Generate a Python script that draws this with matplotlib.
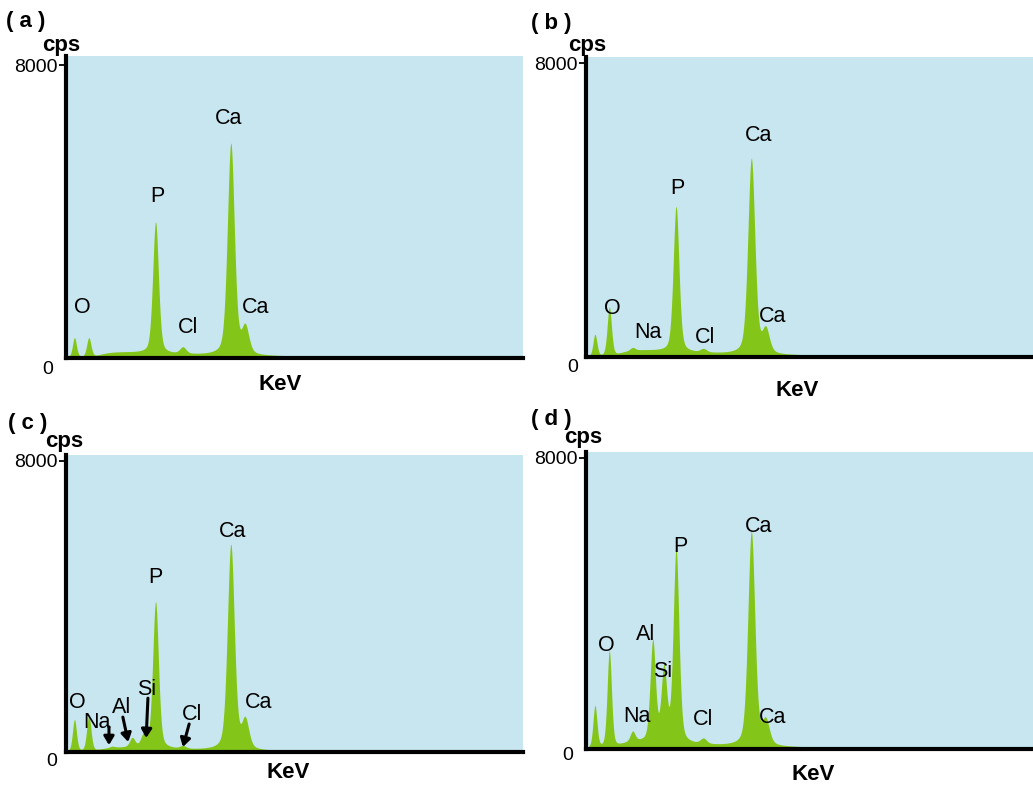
import numpy as np
import matplotlib
matplotlib.use('Agg')
import matplotlib.pyplot as plt

plt.rcParams['font.family'] = ['Liberation Sans', 'DejaVu Sans']

W, H = 1033, 785
bg_color = '#c8e6ef'
fill_color = '#84c51a'

# characteristic line energies (keV)
line_energy = {'low': 0.20, 'O': 0.52, 'Na': 1.04, 'Al': 1.49, 'Si': 1.74,
               'P': 2.01, 'Cl': 2.62, 'Ca': 3.69, 'CaKb': 4.01}

# peak heights (cps) for each sample
a_lines = ['low', 'O', 'P', 'Cl', 'Ca', 'CaKb']
a_counts = [535, 535, 3700, 260, 5840, 780]
a_level = 110

b_lines = ['low', 'O', 'Na', 'P', 'Cl', 'Ca', 'CaKb']
b_counts = [600, 1355, 245, 4090, 200, 5390, 705]
b_level = 140

c_lines = ['low', 'O', 'Na', 'Al', 'Si', 'P', 'Cl', 'Ca', 'CaKb']
c_counts = [880, 990, 140, 360, 410, 4120, 140, 5690, 825]
c_level = 90

d_lines = ['low', 'O', 'Na', 'Al', 'Si', 'P', 'Cl', 'Ca', 'CaKb']
d_counts = [1160, 2680, 440, 2920, 2120, 5430, 250, 5960, 720]
d_level = 140

# element labels: text, energy, cps
a_labels = [('O', 0.37, 1360), ('P', 2.04, 4410), ('Cl', 2.73, 810),
            ('Ca', 3.65, 6525), ('Ca', 4.25, 1360)]
b_labels = [('O', 0.58, 1330), ('Na', 1.38, 680), ('P', 2.03, 4580),
            ('Cl', 2.66, 540), ('Ca', 3.86, 6040), ('Ca', 4.17, 1110)]
c_labels = [('O', 0.26, 1350), ('Na', 0.70, 820), ('Al', 1.26, 1210),
            ('Si', 1.82, 1730), ('Cl', 2.82, 1040), ('P', 2.00, 4810),
            ('Ca', 3.72, 6070), ('Ca', 4.30, 1350)]
d_labels = [('O', 0.45, 2840), ('Na', 1.14, 880), ('Al', 1.34, 3145),
            ('Si', 1.70, 2125), ('Cl', 2.61, 800), ('P', 2.10, 5570),
            ('Ca', 3.86, 6125), ('Ca', 4.17, 855)]

# arrows for the weak lines in (c): tail (keV, cps) -> head (keV, cps)
c_arrows = [((0.97, 690), (0.97, 190)), ((1.28, 960), (1.40, 275)),
            ((1.84, 1480), (1.80, 385)), ((2.76, 770), (2.62, 137))]

E = np.linspace(0.0, 10.2, 3000)


def continuum(e, level):
    # Kramers-type bremsstrahlung with low-energy absorption
    e = np.maximum(e, 0.05)
    shape = np.clip((15.0 - e) / e, 0, None) * np.exp(-(0.9 / e) ** 3)
    ref = (15.0 - 2.0) / 2.0 * np.exp(-(0.9 / 2.0) ** 3)
    return level * shape / ref


def spectrum(lines, counts, level):
    y = continuum(E, level)
    for name, h in zip(lines, counts):
        e0 = line_energy[name]
        sig = np.sqrt(0.042 ** 2 + 0.0012 * e0)
        gam = 1.1775 * sig
        amp = max(h - continuum(np.array([e0]), level)[0], 0)
        g = np.exp(-(E - e0) ** 2 / (2 * sig ** 2))
        lz = 1.0 / (1.0 + ((E - e0) / gam) ** 2)
        y = y + amp * (0.65 * g + 0.35 * lz)
    return y


fig = plt.figure(figsize=(W / 100, H / 100), dpi=100)


def px(x, y):
    return x / W, 1 - y / H


panels = [
    # axes left, bottom, top in px; then data, labels, tag and text positions
    (65.5, 357.5, 56, a_lines, a_counts, a_level, a_labels, '( a )',
     (6, 22), (61, 45), (48, 370), (280, 384)),
    (586, 357, 57, b_lines, b_counts, b_level, b_labels, '( b )',
     (531, 24), (587, 45), (573, 368), (797, 390)),
    (65.5, 752, 455, c_lines, c_counts, c_level, c_labels, '( c )',
     (8, 423), (64, 441), (52, 762), (288, 773)),
    (586, 749, 452, d_lines, d_counts, d_level, d_labels, '( d )',
     (531, 419), (583, 438), (568, 755), (813, 775)),
]

for i, (l, b, t, lines, counts, level, labels, tag, tpos, cpos, zpos, kpos) in enumerate(panels):
    ax = fig.add_axes([l / W, 1 - b / H, 457 / W, (b - t) / H])
    ax.set_facecolor(bg_color)
    y = spectrum(lines, counts, level)
    ax.fill_between(E, 0, y, color=fill_color, lw=0)
    ax.set_xlim(0, 10.2)
    ytop = 8000 * (b - t) / (b - (t + 9 if i == 0 else t + 6))
    ax.set_ylim(0, ytop)
    for s in ['top', 'right']:
        ax.spines[s].set_visible(False)
    for s in ['left', 'bottom']:
        ax.spines[s].set_linewidth(3.0)
        ax.spines[s].set_capstyle('projecting')
    ax.set_xticks([])
    ax.set_yticks([8000])
    ax.set_yticklabels(['8000'], fontsize=14)
    ax.tick_params(axis='y', length=5, width=1.3, pad=1)

    for txt, ex, cy in labels:
        ax.text(ex, cy, txt, fontsize=15.5, ha='center', va='center')

    if i == 2:
        for (tx, ty), (hx, hy) in c_arrows:
            ax.annotate('', xy=(hx, hy), xytext=(tx, ty),
                        arrowprops=dict(arrowstyle='-|>,head_length=0.5,head_width=0.3',
                                        color='black', lw=2.2, shrinkA=0, shrinkB=0))

    fig.text(*px(*tpos), tag, fontsize=16, fontweight='bold', ha='left', va='center')
    fig.text(*px(*cpos), 'cps', fontsize=16, fontweight='bold', ha='center', va='center')
    fig.text(*px(*zpos), '0', fontsize=14, ha='center', va='center')
    fig.text(*px(*kpos), 'KeV', fontsize=16, fontweight='bold', ha='center', va='center')

fig.savefig('out.png', dpi=100)
